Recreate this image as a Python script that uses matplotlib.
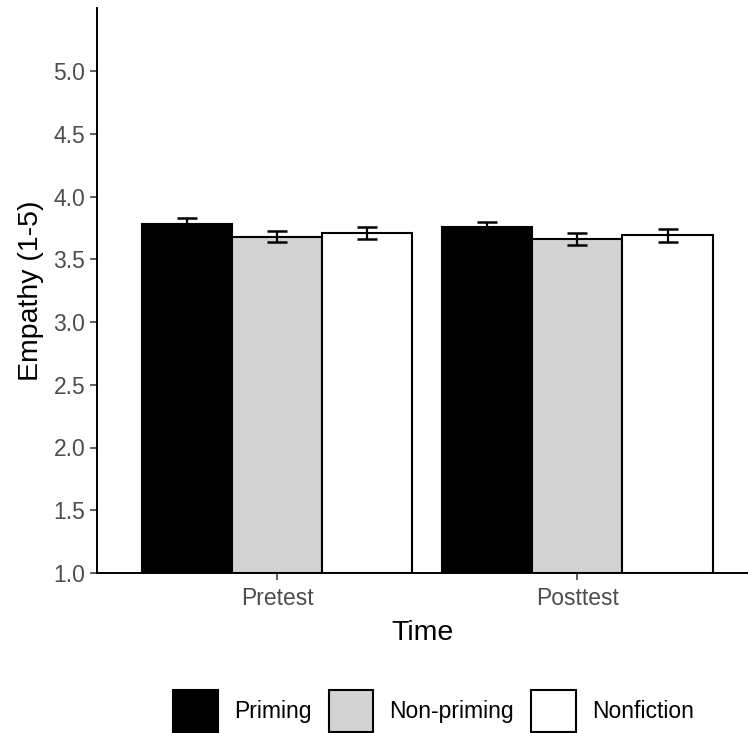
import numpy as np
import matplotlib
matplotlib.use('Agg')
import matplotlib.pyplot as plt
from matplotlib.patches import Patch

plt.rcParams['font.family'] = ['Liberation Sans', 'DejaVu Sans']

times = ['Pretest', 'Posttest']
groups = ['Priming', 'Non-priming', 'Nonfiction']
colors = ['black', '#d3d3d3', 'white']
priming = [3.78, 3.755]
nonpriming = [3.68, 3.66]
nonfiction = [3.71, 3.69]
priming_se = [0.045, 0.045]
nonpriming_se = [0.045, 0.05]
nonfiction_se = [0.05, 0.05]

means = [priming, nonpriming, nonfiction]
ses = [priming_se, nonpriming_se, nonfiction_se]

fig = plt.figure(figsize=(7.48, 7.33), dpi=100)
ax = fig.add_axes([97/748, 1-573/733, 1-97/748, (573-8.25)/733])

x = np.arange(1, len(times)+1)
w = 0.3
for i in range(3):
    pos = x + (i-1)*w
    ax.bar(pos, np.array(means[i])-1, bottom=1, width=w, color=colors[i],
           edgecolor='black', linewidth=1.5, zorder=2)
    ax.errorbar(pos, means[i], yerr=ses[i], fmt='none', ecolor='black',
                elinewidth=1.6, capsize=7.2, capthick=1.8, zorder=3)

ax.set_xlim(0.4, 2.568)
ax.set_ylim(1, 5.5)
ax.set_yticks(np.arange(1, 5.01, 0.5))
ax.set_yticklabels(['%.1f' % v for v in np.arange(1, 5.01, 0.5)])
ax.set_xticks(x)
ax.set_xticklabels(times)
ax.tick_params(labelsize=16.5, labelcolor='#4d4d4d', color='#333333',
               length=5, width=1.1, pad=3.5)
ax.tick_params(axis='x', pad=5)
for s in ['top', 'right']:
    ax.spines[s].set_visible(False)
for s in ['left', 'bottom']:
    ax.spines[s].set_linewidth(1.4)
ax.set_xlabel('Time', fontsize=20.5, labelpad=7)
ax.set_ylabel('Empathy (1-5)', fontsize=20.5, labelpad=7)

handles = [Patch(facecolor=colors[i], edgecolor='black', linewidth=1.5, label=groups[i]) for i in range(3)]
fig.legend(handles=handles, loc='center', bbox_to_anchor=(433.5/748, 1-711/733),
           ncol=3, frameon=False, fontsize=16.5, handlelength=1.95, handleheight=2.4,
           handletextpad=0.7, columnspacing=0.75)

plt.savefig('out.png', dpi=100)
